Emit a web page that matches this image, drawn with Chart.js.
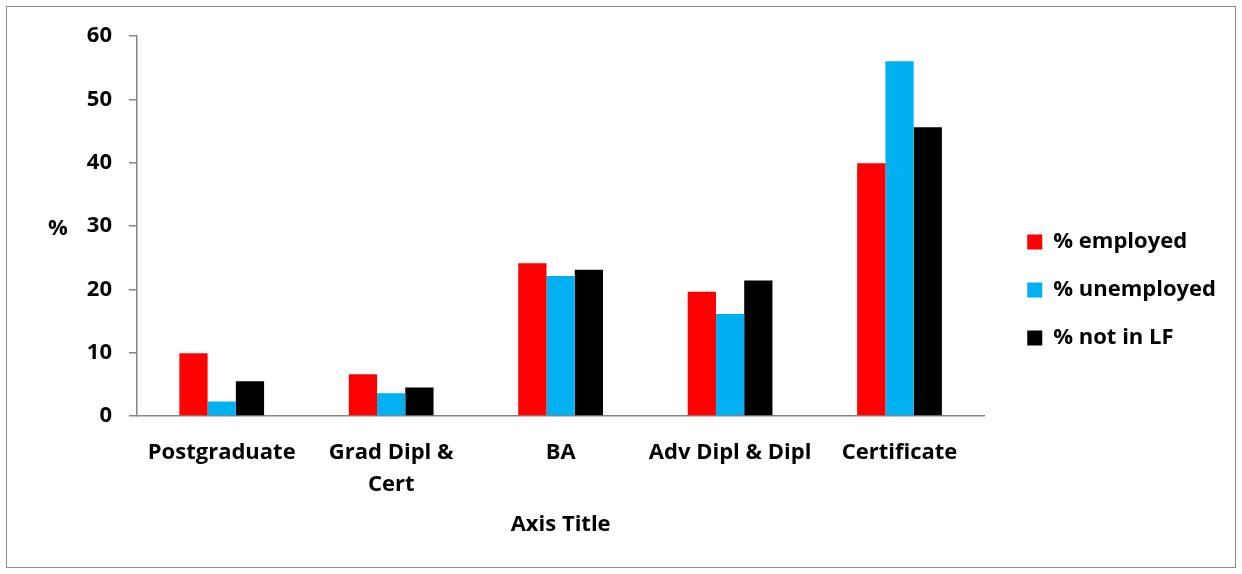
<!DOCTYPE html>
<html>
<head>
  <meta charset="UTF-8">
  <title>Employment status by qualification</title>
  <script src="https://cdn.jsdelivr.net/npm/chart.js"></script>
  <style>
    html, body { margin: 0; padding: 0; background: #fff; overflow: hidden; }
    #chart { display: block; }
  </style>
</head>
<body>
  <canvas id="chart" width="1242" height="574"></canvas>

  <script>
    // data
    const categories = ['Postgraduate', ['Grad Dipl &', 'Cert'], 'BA', 'Adv Dipl & Dipl', 'Certificate'];
    const employed   = [9.9, 6.6, 24.1, 19.6, 39.9];
    const unemployed = [2.3, 3.6, 22.1, 16.1, 56.0];
    const notInLF    = [5.5, 4.5, 23.1, 21.4, 45.6];
    const seriesNames = ['% employed', '% unemployed', '% not in LF'];
    const yMin = 0, yMax = 60, yStep = 10;
    const yLabel = '%';
    const xLabel = 'Axis Title';

    const FONT = '"Open Sans", Lato, Arial, sans-serif';
    const FSIZE = 22;
    const axisGrey = '#868686';

    // frame round the whole chart + the horizontal "%" title
    const extras = {
      id: 'extras',
      afterLayout(chart) {
        // legend boxes sit ~43px right of the plot area
        const lg = chart.legend;
        const shift = chart.chartArea.right + 17 - lg.left;
        lg.left += shift; lg.right += shift;
        lg.top += 2; lg.bottom += 2;
      },
      beforeDraw(chart) {
        const ctx = chart.ctx;
        ctx.save();
        ctx.fillStyle = '#fff';
        ctx.fillRect(0, 0, chart.width, chart.height);
        ctx.strokeStyle = '#8c8c8c';
        ctx.lineWidth = 1;
        ctx.strokeRect(6.5, 6.5, chart.width - 13, chart.height - 13);
        ctx.restore();
      },
      afterDraw(chart) {
        const ctx = chart.ctx;
        const a = chart.chartArea;
        const ys = chart.scales.y;
        ctx.save();
        ctx.font = 'bold ' + FSIZE + 'px ' + FONT;
        ctx.fillStyle = '#000';
        ctx.textAlign = 'center';
        ctx.textBaseline = 'middle';
        ctx.fillText(yLabel, ys.left + 38, (a.top + a.bottom) / 2 + 3);
        ctx.restore();
      }
    };

    new Chart(document.getElementById('chart'), {
      type: 'bar',
      data: {
        labels: categories,
        datasets: [
          { label: seriesNames[0], data: employed,   backgroundColor: '#FF0000' },
          { label: seriesNames[1], data: unemployed, backgroundColor: '#00B0F0' },
          { label: seriesNames[2], data: notInLF,    backgroundColor: '#000000' }
        ]
      },
      options: {
        responsive: false,
        animation: false,
        layout: { padding: { top: 36, left: 20, right: 33, bottom: 34 } },
        datasets: { bar: { categoryPercentage: 0.5, barPercentage: 1.0, borderWidth: 0 } },
        plugins: {
          tooltip: { enabled: false },
          legend: {
            position: 'right',
            align: 'center',
            labels: {
              boxWidth: 15,
              boxHeight: 15,
              padding: 26,
              color: '#000',
              font: { family: FONT, size: FSIZE, weight: 'bold' }
            }
          }
        },
        scales: {
          x: {
            grid: { display: false, drawTicks: false },
            border: { color: axisGrey, width: 1.5 },
            ticks: {
              color: '#000',
              padding: 21,
              maxRotation: 0,
              autoSkip: false,
              font: { family: FONT, size: FSIZE, weight: 'bold', lineHeight: 1.45 }
            },
            title: {
              display: true,
              text: xLabel,
              color: '#000',
              padding: { top: 0, bottom: 2 },
              font: { family: FONT, size: FSIZE, weight: 'bold' }
            },
            afterFit(s) { s.height = 124; }
          },
          y: {
            min: yMin,
            max: yMax,
            grid: { display: true, drawOnChartArea: false, drawTicks: true, tickLength: 8, color: axisGrey, lineWidth: 1.5 },
            border: { color: axisGrey, width: 1.5 },
            ticks: {
              stepSize: yStep,
              color: '#000',
              padding: 17,
              font: { family: FONT, size: FSIZE, weight: 'bold' }
            },
            afterFit(s) { s.width = 117; }
          }
        }
      },
      plugins: [extras]
    });
  </script>
</body>
</html>
